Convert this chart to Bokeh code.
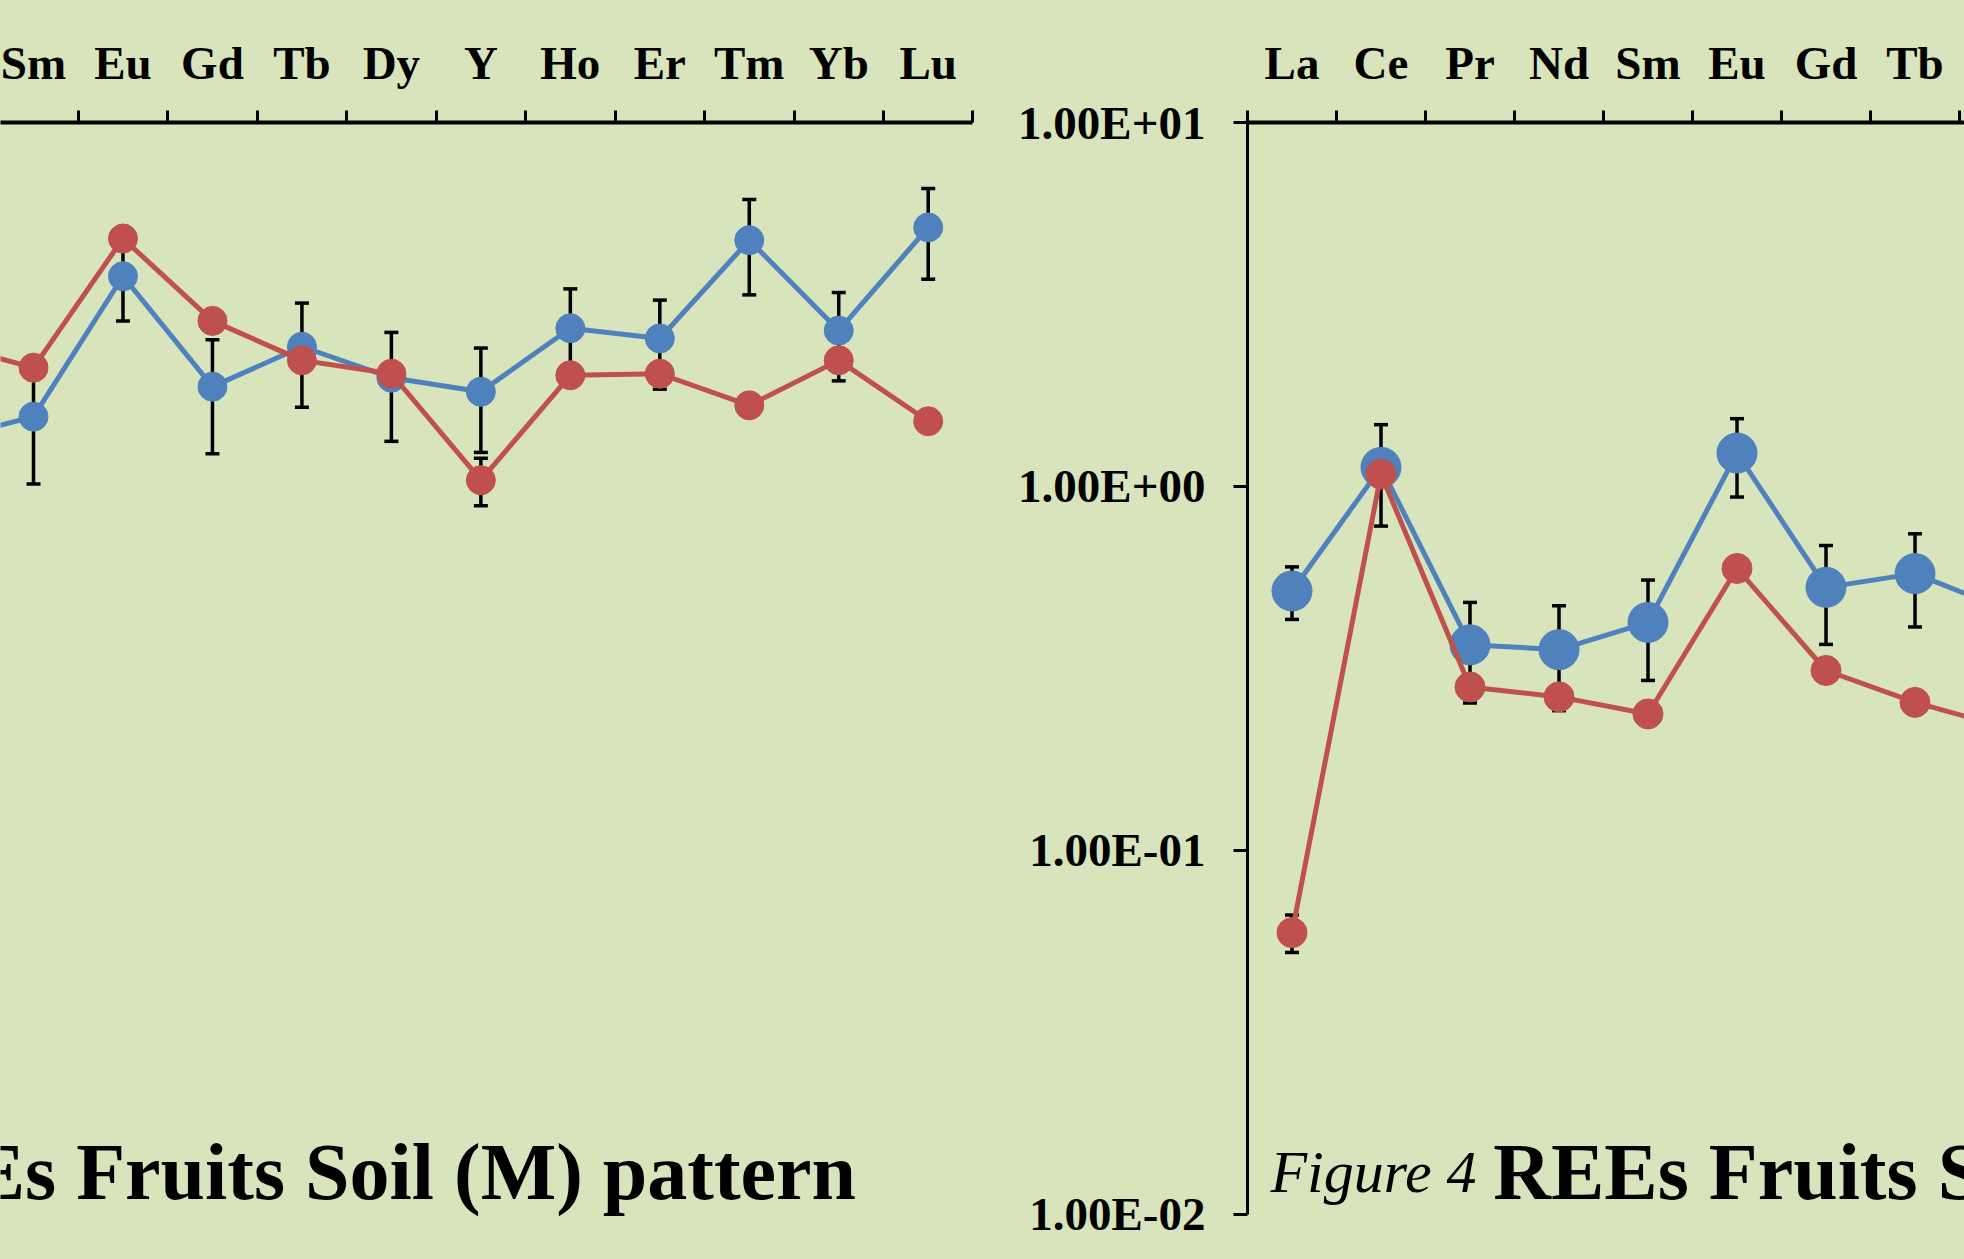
from bokeh.plotting import figure
from bokeh.layouts import row
from bokeh.models import (Range1d, FixedTicker, CustomJSTickFormatter, ColumnDataSource,
                          Whisker, TeeHead, Label)
from bokeh.embed import file_html
from bokeh.resources import INLINE

# ---------------- data ----------------
REE = ["La", "Ce", "Pr", "Nd", "Sm", "Eu", "Gd", "Tb", "Dy", "Y", "Ho", "Er", "Tm", "Yb", "Lu"]
Y_TICKS = [0.01, 0.1, 1, 10]

# left panel: REEs Fruits Soil (M) pattern (only the visible part of the panel)
soil_elements = ["Nd", "Sm", "Eu", "Gd", "Tb", "Dy", "Y", "Ho", "Er", "Tm", "Yb", "Lu"]
soil_blue = [1.34, 1.555, 3.78, 1.88, 2.42, 1.99, 1.82, 2.72, 2.55, 4.75, 2.68, 5.15]
soil_blue_err = [0.45, 0.54, 0.93, 0.65, 0.77, 0.66, 0.58, 0.77, 0.70, 1.39, 0.73, 1.44]
soil_red = [2.47, 2.12, 4.80, 2.85, 2.22, 2.04, 1.04, 2.02, 2.04, 1.67, 2.22, 1.51]
soil_red_err = [0, 0, 0, 0, 0, 0, 0.155, 0, 0, 0, 0, 0]

# right panel: Figure 4 REEs Fruits S...
fruit_elements = ["La", "Ce", "Pr", "Nd", "Sm", "Eu", "Gd", "Tb", "Dy"]
fruit_blue = [0.516, 1.128, 0.367, 0.356, 0.423, 1.235, 0.528, 0.576, 0.46]
fruit_blue_err = [0.085, 0.35, 0.113, 0.114, 0.13, 0.30, 0.16, 0.165, 0.15]
fruit_red = [0.0594, 1.081, 0.281, 0.264, 0.237, 0.595, 0.312, 0.255, 0.218]
fruit_red_err = [0.007, 0, 0, 0, 0, 0, 0, 0, 0]

# ---------------- style ----------------
BG = "#D8E4BC"
BLUE = "#4F81BD"
RED = "#C0504D"
FONT = "Liberation Serif"
H = 1259
Y_LOW = 0.00751   # frame reaches the bottom of the canvas; axis is bounded at 0.01
TITLE_Y = 0.0131


def make_fig(width, x_start, x_end, x_bounds, min_left, show_y):
    p = figure(width=width, height=H,
               x_range=Range1d(x_start, x_end), y_range=Range1d(Y_LOW, 10),
               y_axis_type="log", x_axis_location="above",
               y_axis_location="left" if show_y else None,
               output_backend="svg", toolbar_location=None,
               min_border_left=min_left, min_border_right=0,
               min_border_top=122, min_border_bottom=0)
    p.background_fill_color = BG
    p.border_fill_color = BG
    p.outline_line_color = None
    p.grid.visible = False

    ax = p.xaxis[0]
    ax.bounds = x_bounds
    ax.ticker = FixedTicker(ticks=list(range(len(REE))),
                            minor_ticks=[i - 0.5 for i in range(len(REE) + 1)])
    ax.major_label_overrides = {i: name for i, name in enumerate(REE)}
    ax.major_tick_out = 0
    ax.major_tick_in = 0
    ax.minor_tick_out = 12
    ax.minor_tick_in = 0
    ax.minor_tick_line_width = 3
    ax.minor_tick_line_color = "black"
    ax.axis_line_width = 4
    ax.axis_line_color = "black"
    ax.major_label_text_font = FONT
    ax.major_label_text_font_style = "bold"
    ax.major_label_text_font_size = "47px"
    ax.major_label_text_color = "black"
    ax.major_label_standoff = 22

    if show_y:
        ay = p.yaxis[0]
        ay.bounds = (Y_TICKS[0], Y_TICKS[-1])
        ay.ticker = FixedTicker(ticks=Y_TICKS)
        ay.formatter = CustomJSTickFormatter(code="""
            const e = Math.round(Math.log10(tick));
            const m = tick / Math.pow(10, e);
            const s = e < 0 ? "-" : "+";
            const a = Math.abs(e);
            return m.toFixed(2) + "E" + s + (a < 10 ? "0" + a : "" + a);
        """)
        ay.major_tick_out = 14
        ay.major_tick_in = 0
        ay.minor_tick_out = 0
        ay.minor_tick_in = 0
        ay.major_tick_line_width = 3
        ay.major_tick_line_color = "black"
        ay.axis_line_width = 3
        ay.axis_line_color = "black"
        ay.major_label_text_font = FONT
        ay.major_label_text_font_style = "bold"
        ay.major_label_text_font_size = "47px"
        ay.major_label_text_color = "black"
        ay.major_label_standoff = 28
    return p


def add_series(p, elements, blue, blue_err, red, red_err, blue_size, red_size, lw):
    xs = [REE.index(e) for e in elements]
    for vals, errs in ((blue, blue_err), (red, red_err)):
        base = [x for x, e in zip(xs, errs) if e > 0]
        up = [v + e for v, e in zip(vals, errs) if e > 0]
        lo = [v - e for v, e in zip(vals, errs) if e > 0]
        if base:
            w = Whisker(source=ColumnDataSource(dict(base=base, upper=up, lower=lo)),
                        base="base", upper="upper", lower="lower", dimension="height",
                        line_color="black", line_width=3.5,
                        upper_head=TeeHead(size=14, line_width=3.5, line_color="black"),
                        lower_head=TeeHead(size=14, line_width=3.5, line_color="black"))
            p.add_layout(w)
    src = ColumnDataSource(dict(x=xs, blue=blue, red=red))
    p.line("x", "blue", source=src, line_color=BLUE, line_width=lw)
    p.scatter("x", "blue", source=src, size=blue_size, fill_color=BLUE, line_color=BLUE)
    p.line("x", "red", source=src, line_color=RED, line_width=lw)
    p.scatter("x", "red", source=src, size=red_size, fill_color=RED, line_color=RED)


# left panel: category pitch ~89.5 px, frame from page x 0 to 1000, axis ends at Lu + 0.5
left = make_fig(1000, 3.631, 14.808, (3.631, 14.5), 0, False)
add_series(left, soil_elements, soil_blue, soil_blue_err, soil_red, soil_red_err, 29, 29, 5)
left.add_layout(Label(x=2.067, y=TITLE_Y, text="REEs Fruits Soil (M) pattern",
                      text_font=FONT, text_font_style="bold", text_font_size="80px",
                      text_color="black", text_baseline="alphabetic"))

# right panel: frame from page x 1247 to 1964
right = make_fig(964, -0.5, 7.556, (-0.5, 7.556), 247, True)
add_series(right, fruit_elements, fruit_blue, fruit_blue_err, fruit_red, fruit_red_err, 40, 30, 5)
right.add_layout(Label(x=-0.242, y=TITLE_Y, text="Figure 4",
                       text_font=FONT, text_font_style="italic", text_font_size="60px",
                       text_color="black", text_baseline="alphabetic"))
right.add_layout(Label(x=2.26, y=TITLE_Y, text="REEs Fruits Soil",
                       text_font=FONT, text_font_style="bold", text_font_size="80px",
                       text_color="black", text_baseline="alphabetic"))

layout = row(left, right, styles={"background-color": BG})

open("out.html", "w").write(file_html(layout, INLINE))
